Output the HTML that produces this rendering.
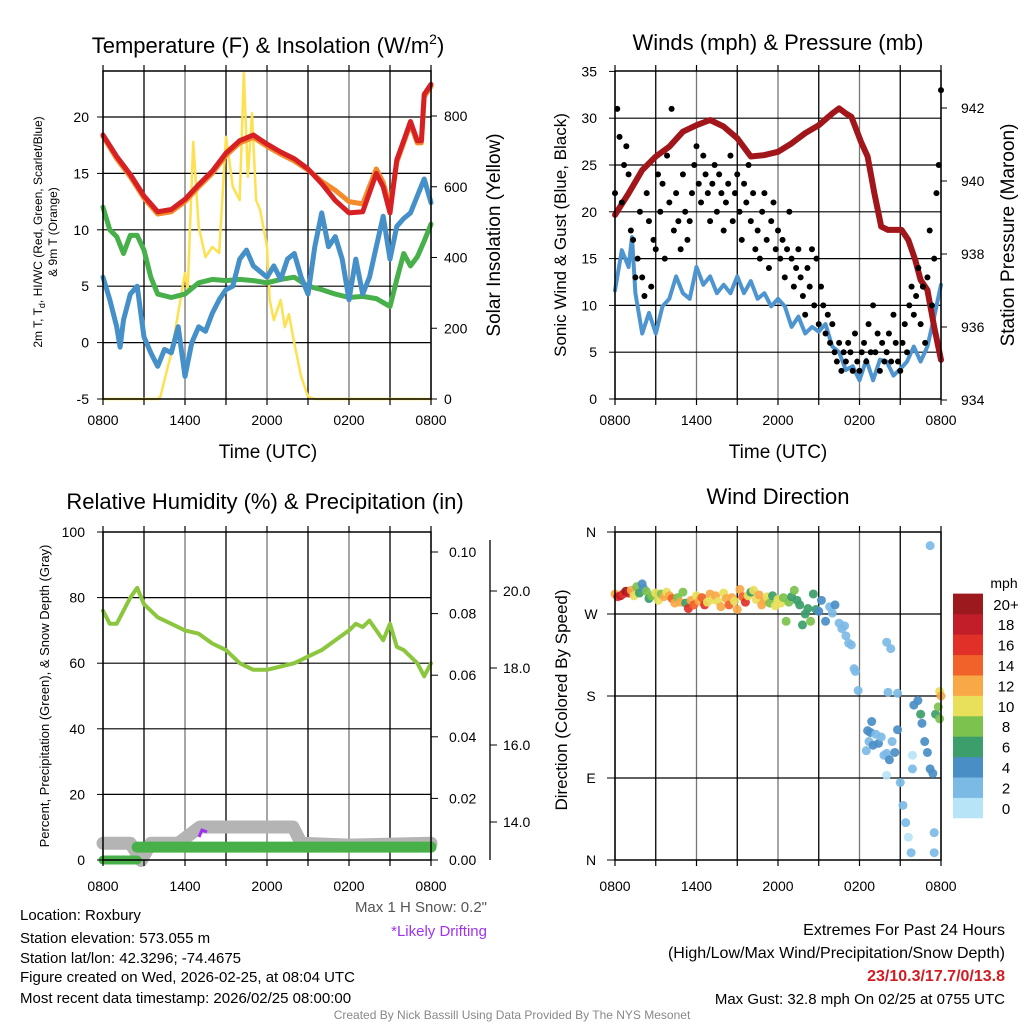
<!DOCTYPE html>
<html><head><meta charset="utf-8"><style>
html,body{margin:0;padding:0;background:#fff}
svg{display:block;font-family:"Liberation Sans",Arial,sans-serif}
</style></head><body>
<svg id="c" width="1024" height="1024" viewBox="0 0 1024 1024" xmlns="http://www.w3.org/2000/svg">
<g id="grid"></g><g id="marks"></g><g id="axes"></g>
<text x="268" y="53" font-size="22" text-anchor="middle">Temperature (F) &amp; Insolation (W/m<tspan dy="-9" font-size="14">2</tspan><tspan dy="9">)</tspan></text>
<text x="778" y="50" font-size="22" text-anchor="middle">Winds (mph) &amp; Pressure (mb)</text>
<text x="265" y="509" font-size="22" text-anchor="middle">Relative Humidity (%) &amp; Precipitation (in)</text>
<text x="778" y="504" font-size="22" text-anchor="middle">Wind Direction</text>
<text transform="translate(42,232) rotate(-90)" font-size="12" text-anchor="middle">2m T, T<tspan font-size="9" dy="3">d</tspan><tspan dy="-3">, HI/WC (Red, Green, Scarlet/Blue)</tspan></text>
<text transform="translate(57,232) rotate(-90)" font-size="12" text-anchor="middle">&amp; 9m T (Orange)</text>
<text transform="translate(500,235) rotate(-90)" font-size="19" text-anchor="middle">Solar Insolation (Yellow)</text>
<text x="268" y="458" font-size="19" text-anchor="middle">Time (UTC)</text>
<text transform="translate(566,235) rotate(-90)" font-size="17" text-anchor="middle">Sonic Wind &amp; Gust (Blue, Black)</text>
<text transform="translate(1014,235) rotate(-90)" font-size="19" text-anchor="middle">Station Pressure (Maroon)</text>
<text x="778" y="458" font-size="19" text-anchor="middle">Time (UTC)</text>
<text transform="translate(49,696) rotate(-90)" font-size="13" text-anchor="middle">Percent, Precipitation (Green), &amp; Snow Depth (Gray)</text>
<text transform="translate(567,700) rotate(-90)" font-size="17" text-anchor="middle">Direction (Colored By Speed)</text>
<g font-size="15">
<text x="20" y="920">Location: Roxbury</text>
<text x="20" y="943">Station elevation: 573.055 m</text>
<text x="20" y="963">Station lat/lon: 42.3296; -74.4675</text>
<text x="20" y="982">Figure created on Wed, 2026-02-25, at 08:04 UTC</text>
<text x="20" y="1003">Most recent data timestamp: 2026/02/25 08:00:00</text>
</g>
<text x="487" y="912" font-size="15" fill="#555" text-anchor="end">Max 1 H Snow: 0.2"</text>
<text x="487" y="936" font-size="15" fill="#a033f0" text-anchor="end">*Likely Drifting</text>
<g font-size="16" text-anchor="end">
<text x="1005" y="935">Extremes For Past 24 Hours</text>
<text x="1005" y="958">(High/Low/Max Wind/Precipitation/Snow Depth)</text>
<text x="1005" y="981" fill="#d01c22" font-weight="bold">23/10.3/17.7/0/13.8</text>
<text x="1005" y="1004" font-size="15">Max Gust: 32.8 mph On 02/25 at 0755 UTC</text>
</g>
<text x="512" y="1019" font-size="12" fill="#888" text-anchor="middle">Created By Nick Bassill Using Data Provided By The NYS Mesonet</text>
</svg>
<script>
const xTickLabels = ["0800","1400","2000","0200","0800"];
const tempTicks = [-5,0,5,10,15,20];
const insolTicks = [0,200,400,600,800];
const windTicks = [0,5,10,15,20,25,30,35];
const presTicks = [934,936,938,940,942];
const rhTicks = [0,20,40,60,80,100];
const precipTicks = [0.00,0.02,0.04,0.06,0.08,0.10];
const snowTicks = [14.0,16.0,18.0,20.0];
const dirLabels = ["N","E","S","W","N"];
const speedLabels = ["0","2","4","6","8","10","12","14","16","18","20+"];

const tT = [0,1,2,3,4,5,6,7,8,9,10,11,12,13,14,15,16,17,18,19,20,20.5,21,21.5,22,22.5,23,23.3,23.5,24];
const tRed = [18.4,16.5,14.9,13.0,11.6,11.8,12.7,14.0,15.2,16.8,17.9,18.4,17.6,16.9,16.3,15.4,14.1,12.6,11.5,11.6,15.0,13.8,11.5,16.2,17.9,19.6,17.9,17.9,22.0,22.9];
const tOrange = [18.3,16.3,14.7,12.8,11.4,11.6,12.5,13.8,15.0,16.6,17.7,18.2,17.4,16.7,16.1,15.3,14.3,13.5,12.5,12.3,15.4,14.2,12.0,16.0,17.7,19.4,17.7,17.7,21.8,22.7];
const tdT = [0,0.5,1,1.5,2,2.5,3,3.5,4,5,6,7,8,9,10,11,12,13,14,15,16,17,18,19,20,21,21.5,22,22.5,23,23.5,24];
const tDew = [12.0,10.0,9.4,7.9,9.5,9.5,8.2,5.8,4.3,4.0,4.3,5.3,5.6,5.5,5.6,5.5,5.3,5.6,5.8,5.0,4.7,4.3,4.0,4.1,3.9,3.2,5.6,7.9,6.8,7.6,9.0,10.5];
const wcT = [0,0.5,1,1.25,1.5,2,2.5,3,3.5,4,4.5,5,5.5,6,6.5,7,7.5,8,8.5,9,9.5,10,10.5,11,12,12.5,13,13.5,14,14.5,15,15.5,16,16.5,17,17.5,18,18.5,19,19.5,20,20.5,21,21.5,22,22.5,23,23.5,24];
const tChill = [5.8,3.8,1.4,-0.4,2.0,4.3,5.0,0.5,-0.9,-2.1,-0.6,-0.9,1.4,-3.0,0.0,1.4,1.0,2.6,3.8,4.7,5.0,7.4,8.2,6.8,5.8,6.8,5.6,7.4,7.9,5.8,4.3,8.5,11.5,8.5,9.4,7.4,3.8,7.4,4.3,5.8,8.5,11.2,7.4,10.3,11.0,11.5,13.0,14.5,12.4];
const solT = [0,4,4.2,4.5,5,5.5,6,6.2,6.5,6.6,7,7.5,8,8.5,9,9.5,10,10.3,10.6,10.9,11.2,11.5,12,12.2,12.5,13,13.3,13.6,14,14.5,15,15.5,24];
const solar = [0,0,6,54,130,243,356,308,619,727,487,401,430,413,741,600,562,921,628,808,562,534,430,280,223,280,203,240,158,63,7,0,0];

const windT = [0,0.5,1,1.25,1.5,2,2.5,3,3.5,4,4.5,5,5.5,6,6.5,7,7.5,8,8.5,9,9.5,10,10.5,11,11.5,12,12.5,13,13.5,14,14.5,15,15.5,16,16.5,17,17.5,18,18.5,19,19.5,20,20.5,21,21.5,22,22.5,23,23.5,24];
const wind = [11.6,15.9,14.1,17.3,11.3,7.0,9.2,7.0,9.9,10.7,13.1,11.3,10.7,14.1,12.2,13.1,11.3,12.2,11.3,13.1,11.3,12.6,10.7,11.3,9.9,10.7,9.9,7.7,8.8,7.0,7.7,7.2,8.0,5.6,5.0,3.1,3.5,2.0,4.2,2.0,4.2,4.0,2.5,3.2,4.0,5.6,4.0,5.6,8.8,12.2];
const presT = [0,1,2,3,4,5,6,7,8,9,10,11,12,13,14,15,16,16.5,17,17.4,18.1,18.6,19.1,19.6,20.1,20.6,21.1,21.6,22.1,22.5,23.0,23.5,24];
const pressure = [939.07,939.66,940.30,940.67,940.94,941.35,941.53,941.67,941.49,941.17,940.67,940.71,940.80,941.03,941.31,941.53,941.85,941.99,941.85,941.76,941.08,940.67,939.66,938.75,938.66,938.66,938.66,938.38,937.84,937.29,937.01,936.0,935.1];
const gust = [22,31,28,21,25,27, 24,18,17,13,15,20, 13,11,22,19,12,17, 16,24,20,23,15,26, 21,31,18,22,19,16, 24,20,17,19,22,25, 27,23,21,26,24,22, 19,23,25,20,24,22, 18,21,23,26,19,22, 24,20,17,23,21,25, 19,22,16,18,15,20, 22,17,14,19,21,16, 18,15,17,13,16,20, 15,12,14,16,13,11, 9,14,12,16,10,15, 8,12,10,7,9,6, 8,5,4,6,3,5, 4,6,5,3,7,4, 3,5,6,4,8,5, 10,5,7,3,6,4, 5,7,4,9,6,4, 3,6,8,5,10,12, 9,11,14,8,12,6, 13,18,10,15,22,25, 33];

const rhT = [0,0.5,1,1.5,2,2.5,3,4,5,6,7,8,9,10,11,12,13,14,15,16,17,18,18.5,19,19.5,20,20.5,21,21.5,22,22.5,23,23.5,24];
const rh = [76,72,72,76,80,83,78,74,72,70,69,66,64,60,58,58,59,60,62,64,67,70,72,71,73,70,67,72,65,64,62,60,56,60];
const precipT = [0,2.5,2.5,24];
const precip = [0,0,0.0042,0.0042];
const snowT = [0,2,2.8,3.5,5.5,7.1,10,13.9,14.5,18,24];
const snow = [13.45,13.45,13.0,13.45,13.45,13.87,13.87,13.87,13.45,13.4,13.45];

const dirT = [0,0.2,0.4,0.6,0.8,1.0,1.2,1.4,1.6,1.8,2.0,2.1,2.3,2.5,2.7,3.0,3.2,3.4,3.6,3.8,4.0,4.2,4.4,4.6,4.8,5.0,5.2,5.4,5.6,5.8,6.0,6.2,6.4,6.6,6.8,7.0,7.2,7.4,7.6,7.8,8.0,8.2,8.4,8.6,8.8,9.0,9.2,9.4,9.6,9.8,10.0,10.2,10.4,10.6,10.8,11.0,11.2,11.4,11.6,11.8,12.0,12.2,12.4,12.6,12.8,13.0,13.2,13.4,13.6,13.8,14.0,14.2,14.4,14.6,14.8,15.0,15.2,15.5,15.8,16.0,16.2,16.5,16.7,16.9,17.0,17.2,17.4,17.6,17.7,17.9,18.5,18.6,18.7,18.8,18.9,19.0,19.2,19.4,19.6,19.8,20.0,20.0,20.0,20.1,20.2,20.3,20.4,20.6,20.8,20.8,21.0,21.2,21.4,21.6,21.8,21.9,21.9,22.0,22.3,22.5,22.6,22.8,23.0,23.2,23.2,23.4,23.5,23.5,23.6,23.8,23.9,23.9,24.0];
const direction = [292,289,290,292,295,293,296,290,300,293,303,298,295,287,290,293,285,292,289,294,290,287,282,288,283,294,282,276,285,280,290,284,288,280,283,292,286,290,284,278,293,287,280,288,284,275,297,289,283,290,294,296,286,291,280,285,289,282,290,279,286,282,288,262,283,289,296,285,280,258,270,276,262,292,275,273,285,262,278,271,280,260,254,257,246,238,236,210,207,186,120,142,130,140,152,126,138,128,135,115,117,93,239,184,110,232,130,118,143,183,85,60,41,25,8,100,115,170,175,160,150,130,118,100,345,95,30,8,160,168,155,185,180];
const speed = [12,17,18,17,20,19,12,10,8,7,4,5,8,6,8,10,10,8,12,10,12,14,12,8,12,8,6,16,12,14,10,12,14,16,10,12,10,12,10,12,10,12,14,12,10,12,12,14,16,10,6,10,10,12,12,12,10,8,6,10,10,10,8,8,8,6,8,6,6,6,6,6,8,6,6,4,4,4,2,2,4,2,2,2,2,2,2,2,2,2,2,4,2,4,4,4,2,4,2,2,2,0,2,2,4,2,2,4,4,2,2,2,2,0,2,2,0,4,4,6,4,4,4,4,2,4,2,2,6,8,8,10,12];

const NS="http://www.w3.org/2000/svg";
const G=document.getElementById('grid'),M=document.getElementById('marks'),A=document.getElementById('axes');
function el(tag,attrs,parent){const e=document.createElementNS(NS,tag);for(const k in attrs)e.setAttribute(k,attrs[k]);parent.appendChild(e);return e;}
function lin(d0,d1,r0,r1){return v=>r0+(v-d0)*(r1-r0)/(d1-d0);}
function pathD(xs,ys,fx,fy){return xs.map((t,i)=>(i?'L':'M')+fx(t).toFixed(1)+','+fy(ys[i]).toFixed(1)).join(' ');}
function drawLine(xs,ys,fx,fy,color,w,name){
  const p=el('path',{d:pathD(xs,ys,fx,fy),fill:'none',stroke:color,'stroke-width':w,'stroke-linejoin':'round','stroke-linecap':'round'},M);
  
  
  return p;
}
function txt(x,y,s,size,anchor,parent,name){
  const t=el('text',{x:x,y:y,'font-size':size,'text-anchor':anchor},parent);t.textContent=s;
  
  
  return t;
}
function frame(x0,y0,x1,y1,name){
  const r=el('rect',{x:x0,y:y0,width:x1-x0,height:y1-y0,fill:'none',stroke:'#000','stroke-width':1.5},A);
  
  
}
function timeGrid(x0,x1,y0,y1,fx,labY,name){
  for(let h=0;h<=24;h+=3){const x=fx(h);
    el('line',{x1:x,y1:y0,x2:x,y2:y1,stroke:(h%6==0)?'#777':'#000','stroke-width':1.3},G);
    el('line',{x1:x,y1:y1,x2:x,y2:y1+6,stroke:'#000','stroke-width':1.2},A);
    el('line',{x1:x,y1:y0,x2:x,y2:y0-6,stroke:'#000','stroke-width':1.2},A);}
  xTickLabels.forEach((s,i)=>txt(fx(i*6),labY,s,14,'middle',A,name+'-x-tick'));
}
function hGrid(ticks,fy,x0,x1){ticks.forEach(v=>el('line',{x1:x0,y1:fy(v),x2:x1,y2:fy(v),stroke:'#000','stroke-width':1.2},G));}

{const X0=103,X1=431,Y0=71,Y1=399;
 const fx=lin(0,24,X0,X1), fy=lin(-5,20,399,117), fs=lin(0,800,399,116);
 timeGrid(X0,X1,Y0,Y1,fx,425,'temperature');
 hGrid([0,5,10,15,20],fy,X0,X1);
 tempTicks.forEach(v=>{el('line',{x1:X0-6,y1:fy(v),x2:X0,y2:fy(v),stroke:'#000'},A);txt(X0-14,fy(v)+5,String(v),14,'end',A,'temperature-tick');});
 insolTicks.forEach(v=>{el('line',{x1:X1,y1:fs(v),x2:X1+6,y2:fs(v),stroke:'#000'},A);txt(X1+13,fs(v)+5,String(v),14,'start',A,'insolation-tick');});
 drawLine(solT,solar,fx,fs,'#fde150',2.5,'insolation-line');
 drawLine(tdT,tDew,fx,fy,'#47b04b',5,'dewpoint-line');
 drawLine(wcT,tChill,fx,fy,'#4590c8',5,'wind-chill-line');
 drawLine(tT,tOrange,fx,fy,'#f58a2a',5,'temp-9m-line');
 drawLine(tT,tRed,fx,fy,'#d62024',5,'temp-2m-line');
 frame(X0,Y0,X1,Y1,'temperature-plot-frame');}

{const X0=615,X1=941,Y0=71,Y1=399;
 const fx=lin(0,24,X0,X1), fy=lin(0,35,399,71.4), fp=lin(934,942,400,108);
 timeGrid(X0,X1,Y0,Y1,fx,425,'wind');
 hGrid([5,10,15,20,25,30],fy,X0,X1);
 windTicks.forEach(v=>{el('line',{x1:X0-6,y1:fy(v),x2:X0,y2:fy(v),stroke:'#000'},A);txt(X0-18,fy(v)+5,String(v),14,'end',A,'wind-tick');});
 presTicks.forEach(v=>{el('line',{x1:X1,y1:fp(v),x2:X1+6,y2:fp(v),stroke:'#000'},A);txt(X1+20,fp(v)+5,String(v),14,'start',A,'pressure-tick');});
 drawLine(windT,wind,fx,fy,'#4e95d0',4,'sustained-wind-line');
 drawLine(presT,pressure,fx,fp,'#a0161a',6,'pressure-line');
 gust.forEach((g,i)=>{const c=el('circle',{cx:fx(i/6),cy:fy(g),r:3,fill:'#000'},M);
   
   });
 frame(X0,Y0,X1,Y1,'wind-plot-frame');}

{const X0=103,X1=431,Y0=532,Y1=860;
 const fx=lin(0,24,X0,X1), fy=lin(0,100,860,532), fpr=lin(0,0.1,860,552), fsn=lin(14,20,822,591);
 timeGrid(X0,X1,Y0,Y1,fx,891,'humidity');
 hGrid([20,40,60,80],fy,X0,X1);
 rhTicks.forEach(v=>{el('line',{x1:X0-6,y1:fy(v),x2:X0,y2:fy(v),stroke:'#000'},A);txt(X0-18,fy(v)+5,String(v),14,'end',A,'humidity-tick');});
 precipTicks.forEach(v=>{el('line',{x1:X1,y1:fpr(v),x2:X1+7,y2:fpr(v),stroke:'#000'},A);txt(X1+18,fpr(v)+5,v.toFixed(2),14,'start',A,'precip-tick');});
 el('line',{x1:490,y1:540,x2:490,y2:860,stroke:'#000','stroke-width':1.3},A);
 snowTicks.forEach(v=>{el('line',{x1:490,y1:fsn(v),x2:497,y2:fsn(v),stroke:'#000'},A);txt(503,fsn(v)+5,v.toFixed(1),14,'start',A,'snow-tick');});
 drawLine(snowT,snow,fx,fsn,'#b4b4b4',13,'snow-depth-line');
 drawLine(rhT,rh,fx,fy,'#8cc63f',4,'humidity-line');
 drawLine(precipT.slice(0,2),precip.slice(0,2),fx,fpr,'#48b048',9,'precip-line-start');
 drawLine(precipT.slice(2),precip.slice(2),fx,fpr,'#48b048',11,'precip-line');
 const d=el('polyline',{points:'199,837 202,830 207,832',fill:'none',stroke:'#a033f0','stroke-width':3},M);
 
 
 frame(X0,Y0,X1,Y1,'humidity-plot-frame');}

{const X0=615,X1=941,Y0=532,Y1=860;
 const fx=lin(0,24,X0,X1), fy=lin(0,360,860,532);
 const colors=['#b8e4f8','#7cbae6','#4a8ec6','#3c9e6a','#7cc24e','#e8e05a','#f8a846','#f0622a','#e03028','#c21e2a','#9c1a1e'];
 timeGrid(X0,X1,Y0,Y1,fx,891,'direction');
 hGrid([90,180,270],fy,X0,X1);
 dirLabels.forEach((s,i)=>{el('line',{x1:X0-8,y1:fy(i*90),x2:X0,y2:fy(i*90),stroke:'#000'},A);txt(591,fy(i*90)+5,s,14,'middle',A,'direction-tick');});
 direction.forEach((d,i)=>{const k=Math.min(10,Math.floor(speed[i]/2));
   const c=el('circle',{cx:fx(dirT[i]),cy:fy(d),r:4.5,fill:colors[k],'fill-opacity':0.92},M);
   
   });
 frame(X0,Y0,X1,Y1,'direction-plot-frame');
 const cb=el('g',{},A);
 
 
 const h=20.4;
 speedLabels.forEach((s,i)=>{const y=818-(i+1)*h;
   el('rect',{x:953,y:y,width:30,height:h+0.3,fill:colors[i]},cb);
   txt(1006,y+h/2+6,s,15,'middle',cb,'colorbar-label');});
 txt(1004,588,'mph',14,'middle',cb,'colorbar-title');}
</script>
</body></html>
